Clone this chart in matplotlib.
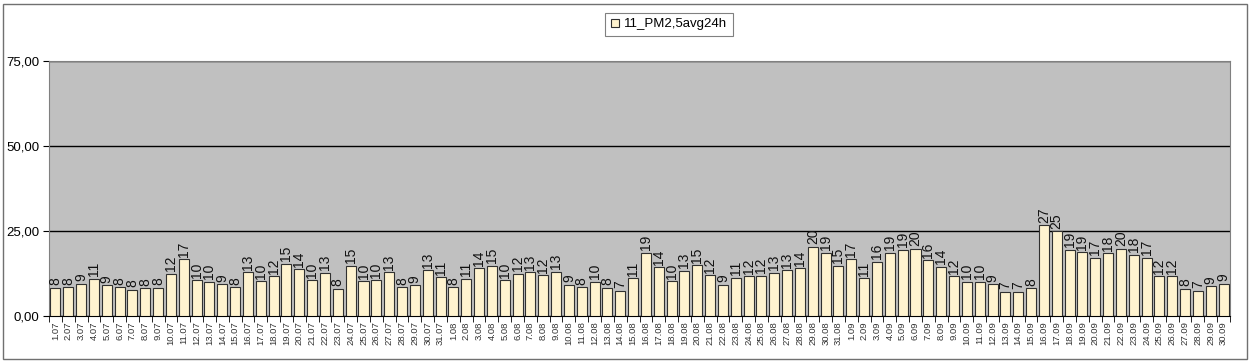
import matplotlib
matplotlib.use("Agg")
import matplotlib.pyplot as plt
from matplotlib.patches import Rectangle
from matplotlib.ticker import FixedLocator

plt.rcParams["font.family"] = ["Liberation Sans", "DejaVu Sans"]

# daily PM2.5 24h averages, 1 July .. 30 September
jul = [8.2, 8.4, 9.4, 10.9, 8.9, 8.4, 7.7, 8.1, 8.2, 12.4, 16.6, 10.4, 10.0, 9.2, 8.4, 12.8,
       10.1, 11.6, 15.3, 13.7, 10.4, 12.7, 8.0, 14.7, 10.1, 10.4, 12.8, 8.4, 8.9, 13.4, 11.4]
aug = [8.4, 10.9, 13.9, 14.7, 10.4, 12.4, 12.8, 11.9, 13.0, 9.1, 8.4, 10.0, 8.3, 7.4, 11.0, 18.6,
       14.2, 10.1, 13.3, 14.8, 12.0, 9.1, 11.2, 11.6, 11.8, 12.7, 13.4, 13.9, 20.3, 18.6, 14.7]
sep = [16.6, 11.0, 15.9, 18.6, 19.4, 19.7, 16.3, 14.4, 11.6, 10.0, 10.0, 9.3, 7.1, 7.1, 8.1,
       26.7, 24.8, 19.4, 18.7, 17.1, 18.4, 19.7, 18.0, 17.1, 11.6, 11.6, 7.9, 7.4, 8.6, 9.4]
values = jul + aug + sep

day_labels = ([f"{d}.07" for d in range(1, 32)] + [f"{d}.08" for d in range(1, 32)]
              + [f"{d}.09" for d in range(1, 31)])
y_ticks = [0, 25, 50, 75]
y_tick_labels = ["0,00", "25,00", "50,00", "75,00"]
series_name = "11_PM2,5avg24h"

W, H = 1252, 362
fig = plt.figure(figsize=(W / 100, H / 100), dpi=100)
fig.patches.append(Rectangle((3 / W, 3 / H), 1244 / W, 355 / H, transform=fig.transFigure,
                             fill=False, edgecolor="#707070", lw=1.0))

ax = fig.add_axes([49 / W, (H - 315.7) / H, (1230 - 49) / W, (315.7 - 61) / H])
ax.set_facecolor("#C0C0C0")
x = list(range(len(values)))
bars = ax.bar(x, values, width=0.78, color="#FFF3CF", edgecolor="#303030", lw=0.8,
              label=series_name, zorder=3)
for xi, v in zip(x, values):
    ax.text(xi, v + 0.7, f"{v:.0f}", rotation=90, ha="center", va="bottom",
            fontsize=10, color="#111111", zorder=4)

ax.set_xlim(-0.5, len(values) - 0.5)
ax.set_ylim(0, 75)
ax.set_yticks(y_ticks)
ax.set_yticklabels(y_tick_labels, fontsize=9.5)
ax.yaxis.grid(True, color="black", lw=1.0, zorder=1)
ax.set_xticks(x)
ax.set_xticklabels(day_labels, rotation=90, fontsize=6.8, color="#333333")
ax.tick_params(axis="x", length=0, pad=4)
ax.xaxis.set_minor_locator(FixedLocator([i - 0.5 for i in range(len(values) + 1)]))
ax.tick_params(axis="x", which="minor", length=4, color="black")
ax.tick_params(axis="y", length=4, color="black", pad=3)
for side in ("left", "top", "right"):
    ax.spines[side].set_color("#808080")
ax.spines["bottom"].set_color("black")

leg = fig.legend(handles=[bars], loc="center", bbox_to_anchor=(669 / W, 1 - 24.5 / H),
                 fontsize=9.5, frameon=True, fancybox=False, handlelength=0.6,
                 handleheight=0.6, handletextpad=0.4, borderpad=0.45, borderaxespad=0)
leg.get_frame().set_edgecolor("#606060")
leg.get_frame().set_linewidth(0.8)

fig.savefig("out.png", dpi=100)
